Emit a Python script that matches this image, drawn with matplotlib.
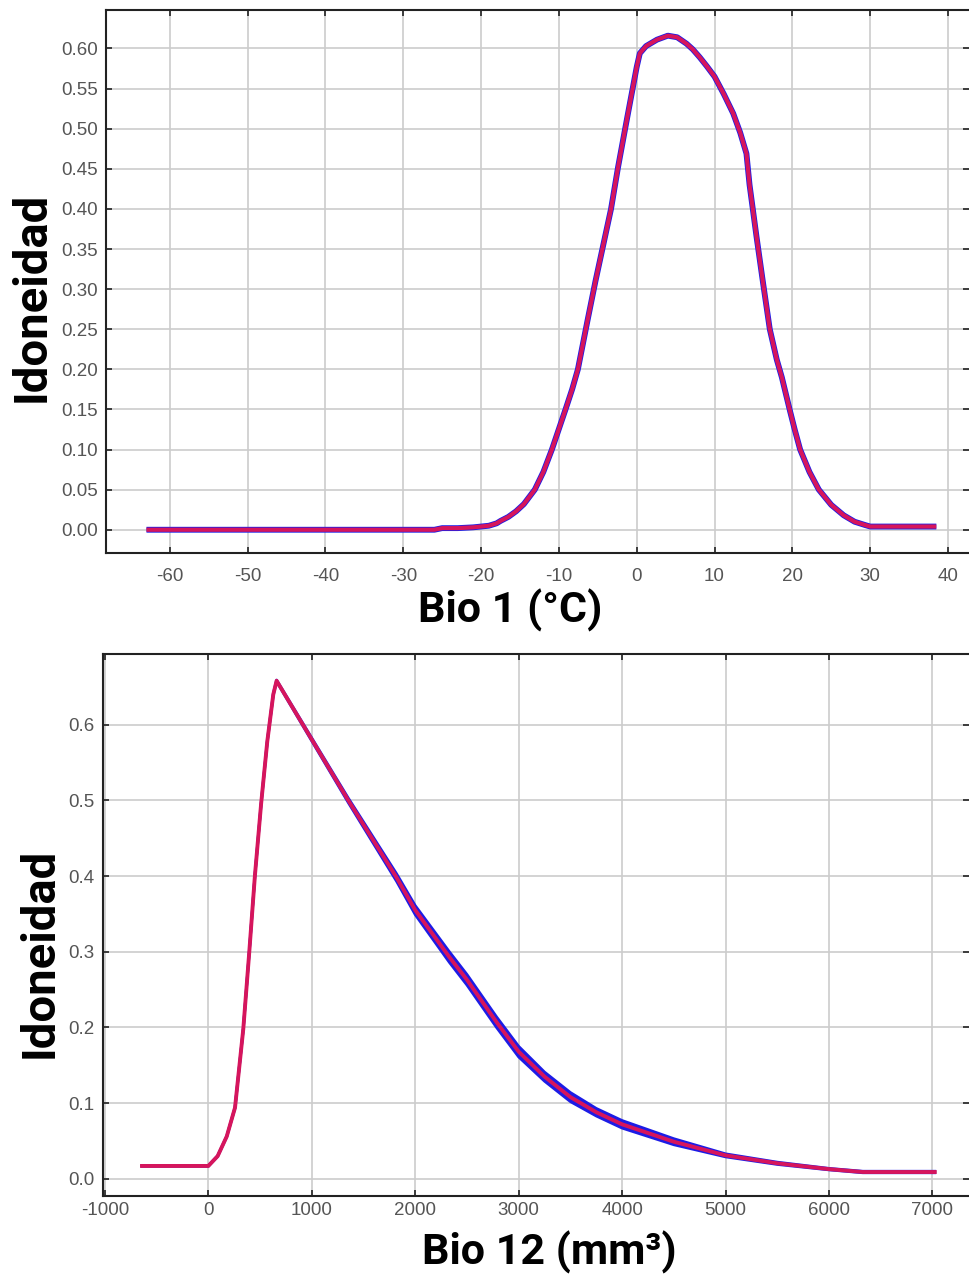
import numpy as np
from matplotlib import pyplot as plt
from matplotlib.ticker import FormatStrFormatter

plt.rcParams['axes.unicode_minus'] = False

# Bio 1 response curve
bio1_x = [-63, -26, -25, -23, -21, -19, -18, -17.5, -16.5, -15.5, -14.5, -13.1, -12, -10.9, -9.15,
          -8.3, -7.56, -6.3, -5.3, -4.3, -3.3, -2.4, -1.2, 0, 0.4, 1.2, 2.6, 4.0, 5.2, 6.4, 7.2,
          8.1, 9.0, 10, 11.2, 12.4, 13.3, 14.1, 14.5, 15.4, 16.2, 17.1, 18.0, 18.65, 19.7,
          20.3, 21.0, 22.2, 23.4, 25.0, 26.6, 28.0, 29.3, 30, 38.5]
bio1_y = [0.0, 0.0, 0.002, 0.002, 0.003, 0.005, 0.008, 0.011, 0.016, 0.023, 0.032, 0.05, 0.072, 0.10, 0.15,
          0.175, 0.20, 0.262, 0.31, 0.355, 0.40, 0.452, 0.515, 0.577, 0.594, 0.603, 0.611, 0.616, 0.614, 0.606, 0.599,
          0.589, 0.578, 0.565, 0.543, 0.519, 0.495, 0.469, 0.43, 0.365, 0.31, 0.25, 0.212, 0.19, 0.148,
          0.125, 0.10, 0.072, 0.05, 0.031, 0.018, 0.010, 0.006, 0.004, 0.004]

# Bio 12 response curve
bio12_x = [-641, 0, 90, 178, 258, 338, 396, 450, 510, 570, 628, 660,
           1002, 1353, 1820, 2000, 2330, 2500, 2786, 3000, 3250, 3500, 3750, 4000, 4500,
           5000, 5500, 6000, 6327, 7022]
bio12_y = [0.017, 0.017, 0.03, 0.056, 0.094, 0.198, 0.300, 0.400, 0.495, 0.578, 0.640, 0.658,
           0.580, 0.50, 0.398, 0.355, 0.293, 0.263, 0.207, 0.168, 0.135, 0.108, 0.088, 0.072, 0.049,
           0.031, 0.0205, 0.0128, 0.009, 0.009]
bio12_sd = [0.0005, 0.0005, 0.0005, 0.0005, 0.0005, 0.0005, 0.0005, 0.0005, 0.001, 0.001, 0.001, 0.001,
            0.002, 0.003, 0.005, 0.006, 0.007, 0.007, 0.007, 0.007, 0.006, 0.006, 0.005, 0.005, 0.004,
            0.002, 0.0015, 0.001, 0.001, 0.001]

red = '#d6155c'
blue = '#1c1ce6'
tick_font = 'Liberation Sans'
label_font = 'Roboto'

fig = plt.figure(figsize=(9.69, 12.8), dpi=100)


def style_axes(ax):
    ax.grid(True, color='#cccccc', lw=1.2)
    ax.set_axisbelow(True)
    for s in ['top', 'left', 'bottom']:
        ax.spines[s].set_color('#222222')
        ax.spines[s].set_linewidth(1.5)
    ax.spines['right'].set_visible(False)
    ax.tick_params(direction='in', length=4, width=1.2, color='#222222',
                   top=True, right=True, labelcolor='#555555')
    for lab in ax.get_xticklabels() + ax.get_yticklabels():
        lab.set_fontfamily(tick_font)


# top panel
ax1 = fig.add_axes([106 / 969, 1 - 553 / 1280, 863 / 969, 543 / 1280])
ax1.plot(bio1_x, bio1_y, color=blue, lw=4.2, solid_capstyle='butt', zorder=3)
ax1.plot(bio1_x, bio1_y, color=red, lw=3.0, solid_capstyle='butt', zorder=4)
ax1.set_xlim(-68.2, 42.7)
ax1.set_ylim(-0.029, 0.648)
ax1.set_xticks(np.arange(-60, 41, 10))
ax1.set_yticks(np.arange(0, 0.61, 0.05))
ax1.yaxis.set_major_formatter(FormatStrFormatter('%.2f'))
ax1.tick_params(axis='x', labelsize=13.5, pad=11)
ax1.tick_params(axis='y', labelsize=13.5, pad=6)
style_axes(ax1)
fig.text(32 / 969, 1 - 297 / 1280, 'Idoneidad', rotation=90, fontfamily=label_font,
         fontweight='bold', fontsize=34, ha='center', va='center')
fig.text(510 / 969, 1 - 610 / 1280, 'Bio 1 (°C)', fontfamily=label_font, fontweight='bold',
         fontsize=31, ha='center', va='center')

# bottom panel
ax2 = fig.add_axes([102.7 / 969, 1 - 1196 / 1280, 866.3 / 969, 541.7 / 1280])
y12 = np.array(bio12_y)
sd12 = np.array(bio12_sd)
ax2.fill_between(bio12_x, y12 - sd12, y12 + sd12, color=blue, lw=0, zorder=3)
ax2.plot(bio12_x, y12 + sd12, color=blue, lw=2, zorder=3)
ax2.plot(bio12_x, y12 - sd12, color=blue, lw=2, zorder=3)
ax2.plot(bio12_x, bio12_y, color=red, lw=2.8, zorder=4)
ax2.set_xlim(-1021, 7353)
ax2.set_ylim(-0.0227, 0.693)
ax2.set_xticks(np.arange(-1000, 7001, 1000))
ax2.set_yticks(np.arange(0, 0.61, 0.1))
ax2.yaxis.set_major_formatter(FormatStrFormatter('%.1f'))
ax2.tick_params(axis='x', labelsize=13.5, pad=4)
ax2.tick_params(axis='y', labelsize=13.5, pad=6)
style_axes(ax2)
fig.text(40 / 969, 1 - 953 / 1280, 'Idoneidad', rotation=90, fontfamily=label_font,
         fontweight='bold', fontsize=34, ha='center', va='center')
fig.text(549 / 969, 1 - 1252 / 1280, 'Bio 12 (mm³)', fontfamily=label_font, fontweight='bold',
         fontsize=31, ha='center', va='center')

fig.savefig('out.png', dpi=100, facecolor='white')
